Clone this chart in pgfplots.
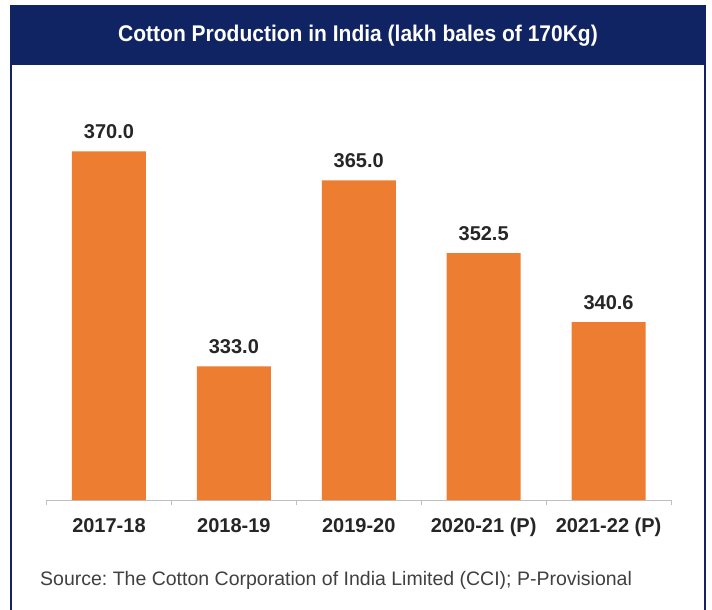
\documentclass[border=0pt]{standalone}
\usepackage{pgfplots}
\pgfplotsset{compat=1.18}
\usepackage{fontspec}
\setmainfont{Liberation Sans}
\definecolor{navy}{RGB}{16,36,100}
\definecolor{barorange}{RGB}{237,125,49}
\definecolor{labelgray}{RGB}{38,38,38}
\definecolor{srcgray}{RGB}{64,64,64}
\definecolor{axisgray}{RGB}{191,191,191}
\frenchspacing
\begin{document}
\begin{tikzpicture}[x=1bp,y=1bp]
\useasboundingbox (0,0) rectangle (712,-610);
\fill[white] (0,0) rectangle (712,-610);
\fill[navy] (10,-5) rectangle (706,-65);
\draw[navy,line width=2bp] (11,-5) -- (11,-610);
\draw[navy,line width=2bp] (705,-5) -- (705,-610);
\node[anchor=base,text=white,font=\bfseries\fontsize{21bp}{25bp}\selectfont] at (358,-42) {\scalebox{1}[1.08]{Cotton Production in India (lakh bales of 170Kg)}};
\begin{axis}[
  at={(46.5bp,-500bp)}, anchor=south west,
  scale only axis,
  width=624.5bp, height=406.7bp,
  xmin=-0.5, xmax=4.5,
  ymin=310, ymax=380,
  axis y line=none,
  axis x line*=bottom,
  x axis line style={-,draw=axisgray,line width=0.8bp},
  xtick={0,1,2,3,4},
  xticklabels={2017-18,2018-19,2019-20,2020-21 (P),2021-22 (P)},
  minor xtick={-0.5,0.5,1.5,2.5,3.5,4.5},
  major tick length=0pt,
  minor tick length=5bp,
  tick align=outside,
  minor tick style={draw=axisgray,line width=0.8bp},
  xticklabel style={anchor=base,yshift=-32bp,text=labelgray,font=\bfseries\fontsize{20bp}{24bp}\selectfont},
  ybar,
  bar width=74bp,
  bar shift=0pt,
  nodes near coords={\pgfmathprintnumber[fixed,fixed zerofill,precision=1,assume math mode=true]{\pgfplotspointmeta}},
  nodes near coords style={anchor=base,yshift=13bp,text=labelgray,font=\bfseries\fontsize{20bp}{24bp}\selectfont},
  clip=false,
]
\addplot[fill=barorange,draw=none] coordinates {(0,370.0) (1,333.0) (2,365.0) (3,352.5) (4,340.6)};
\end{axis}
\node[anchor=base west,text=srcgray,font=\fontsize{19.5bp}{23bp}\selectfont,inner sep=0pt] at (40,-585) {Source: The Cotton Corporation of India Limited (CCI); P-Provisional};
\end{tikzpicture}
\end{document}
